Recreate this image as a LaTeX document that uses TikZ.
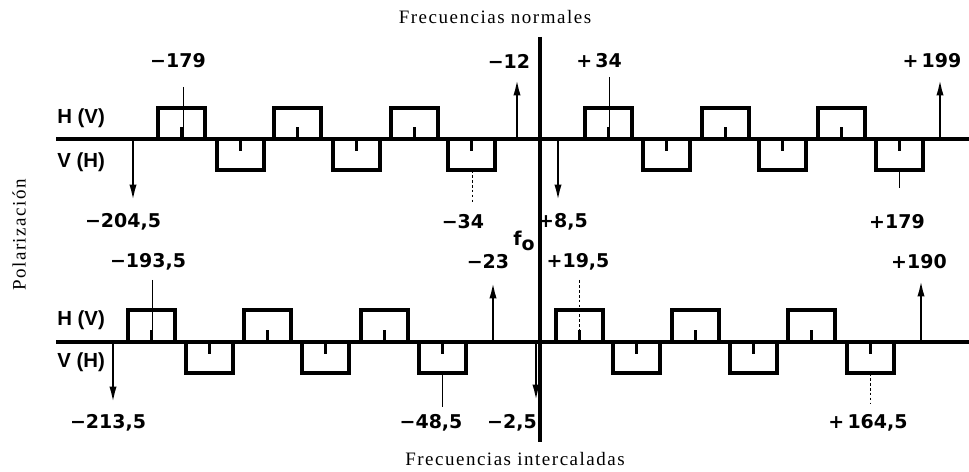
\documentclass[tikz,border=0pt]{standalone}
\usepackage{fontspec}
\setmainfont{Liberation Serif}
\setsansfont{Liberation Sans}
\newfontfamily\spaced[LetterSpace=8]{Liberation Serif}
\newfontfamily\numfont{DejaVu Sans}
\usetikzlibrary{arrows.meta}
\tikzstyle{val} = [font=\numfont\bfseries\fontsize{13.5}{16}\selectfont, inner sep=0pt]
\tikzstyle{pol} = [font=\sffamily\bfseries\fontsize{14.5}{16}\selectfont, inner sep=0pt]
\tikzstyle{caption} = [font=\spaced\fontsize{13.5}{15}\selectfont, inner sep=0pt]
\tikzstyle{axis} = [line width=2.6pt]
\tikzstyle{box} = [line width=2.3pt]
\tikzstyle{tick} = [line width=2pt]
\tikzstyle{arrow} = [line width=2pt, -{Latex[length=13pt,width=5pt]}]
\tikzstyle{guide} = [line width=0.7pt]
\tikzstyle{faint} = [line width=0.7pt, dash pattern=on 2pt off 1.5pt]

\begin{document}
\begin{tikzpicture}[x=0.025cm, y=0.025cm]
			\useasboundingbox (0,0) rectangle (969,472);
			
			\node[caption] (top) at (495,455){Frecuencias normales};
			\node[caption] (bot) at (515,13){Frecuencias intercaladas};
			\node[caption, rotate=90] (pol) at (19,237){Polarización};
			
			\coordinate (ua) at (56,333);
			\coordinate (ub) at (969,333);
			\coordinate (la) at (56,130);
			\coordinate (lb) at (969,130);
			\coordinate (fa) at (540,435);
			\coordinate (fb) at (540,30);
			\draw[axis] (ua) -- (ub);
			\draw[axis] (la) -- (lb);
			\draw[line width=2.4pt] (fa) -- (fb);
			\node[val] (f0) at (524,231){f\raisebox{-0.45ex}{o}};
			
			\node[pol, anchor=west] (uh) at (57,354){H (V)};
			\node[pol, anchor=west] (uv) at (57,310){V (H)};
			\node[pol, anchor=west] (lh) at (57,152){H (V)};
			\node[pol, anchor=west] (lv) at (57,110){V (H)};
			
			\foreach \x in {158,274,391,585,702,818}{
				\draw[box] (\x,333) -- ++(0,31) -- ++(47,0) -- ++(0,-31);
				\draw[tick] (\x+23.5,333) -- ++(0,12);
			}
			\foreach \x in {217,333,448,643,759,876}{
				\draw[box] (\x,333) -- ++(0,-31) -- ++(47,0) -- ++(0,31);
				\draw[tick] (\x+23.5,333) -- ++(0,-12);
			}
			\foreach \x in {128,244,361,556,672,788}{
				\draw[box] (\x,130) -- ++(0,32) -- ++(47,0) -- ++(0,-32);
				\draw[tick] (\x+23.5,130) -- ++(0,12);
			}
			\foreach \x in {186,302,419,613,730,847}{
				\draw[box] (\x,130) -- ++(0,-31) -- ++(47,0) -- ++(0,31);
				\draw[tick] (\x+23.5,130) -- ++(0,-12);
			}
			
			\node[val] (m179) at (178,411){−179};
			\node[val] (m12) at (509,411){−12};
			\node[val] (p34) at (599,411){+\,34};
			\node[val] (p199) at (932,411){+\,199};
			\node[val] (m204) at (123,250){−204,5};
			\node[val] (m34) at (463,250){−34};
			\node[val] (p8) at (563,250){+8,5};
			\node[val] (p179) at (897,250){+179};
			
			\node[val] (m193) at (148,210){−193,5};
			\node[val] (m23) at (488,210){−23};
			\node[val] (p19) at (578,210){+19,5};
			\node[val] (p190) at (919,210){+190};
			\node[val] (m213) at (108,49){−213,5};
			\node[val] (m48) at (431,49){−48,5};
			\node[val] (m2) at (512,49){−2,5};
			\node[val] (p164) at (868,49){+\,164,5};
			
			\coordinate (a1) at (133,333);
			\coordinate (a1e) at (133,269);
			\coordinate (a2) at (517,333);
			\coordinate (a2e) at (517,395);
			\coordinate (a3) at (558,333);
			\coordinate (a3e) at (558,269);
			\coordinate (a4) at (940,333);
			\coordinate (a4e) at (940,395);
			\coordinate (b1) at (113,130);
			\coordinate (b1e) at (113,67);
			\coordinate (b2) at (493,130);
			\coordinate (b2e) at (493,192);
			\coordinate (b3) at (536,130);
			\coordinate (b3e) at (536,69);
			\coordinate (b4) at (921,130);
			\coordinate (b4e) at (921,194);
			\draw[arrow] (a1) -- (a1e);
			\draw[arrow] (a2) -- (a2e);
			\draw[arrow] (a3) -- (a3e);
			\draw[arrow] (a4) -- (a4e);
			\draw[arrow] (b1) -- (b1e);
			\draw[arrow] (b2) -- (b2e);
			\draw[arrow] (b3) -- (b3e);
			\draw[arrow] (b4) -- (b4e);
			
			\coordinate (g1) at (183,385);
			\coordinate (g1e) at (183,333);
			\coordinate (g2) at (609,395);
			\coordinate (g2e) at (609,333);
			\coordinate (g3) at (472,302);
			\coordinate (g3e) at (472,269);
			\coordinate (g4) at (899,302);
			\coordinate (g4e) at (899,284);
			\coordinate (h1) at (152,192);
			\coordinate (h1e) at (152,130);
			\coordinate (h2) at (579,192);
			\coordinate (h2e) at (579,130);
			\coordinate (h3) at (442,99);
			\coordinate (h3e) at (442,65);
			\coordinate (h4) at (870,99);
			\coordinate (h4e) at (870,69);
			\draw[guide] (g1) -- (g1e);
			\draw[guide] (g2) -- (g2e);
			\draw[faint] (g3) -- (g3e);
			\draw[guide] (g4) -- (g4e);
			\draw[guide] (h1) -- (h1e);
			\draw[faint] (h2) -- (h2e);
			\draw[guide] (h3) -- (h3e);
			\draw[faint] (h4) -- (h4e);
		\end{tikzpicture}
\end{document}
